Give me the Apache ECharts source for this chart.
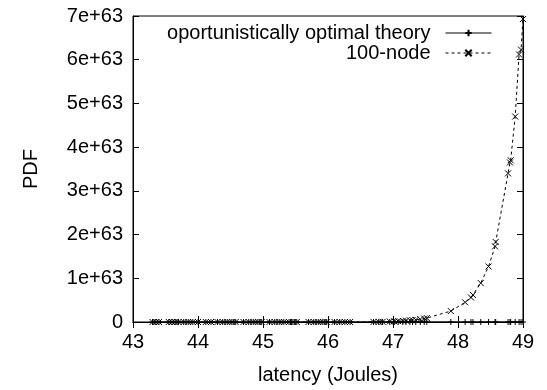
<!DOCTYPE html>
<html>
<head>
<meta charset="utf-8">
<script src="https://cdn.jsdelivr.net/npm/echarts@6/dist/echarts.min.js"></script>
<style>
  html, body { margin: 0; padding: 0; background: #fff; }
  #chart { width: 547px; height: 390px; }
</style>
</head>
<body>
<div id="chart"></div>
<script>
// latency (Joules) sample points
const latency = [
  43.3, 43.35, 43.4,
  43.55, 43.6, 43.65, 43.7, 43.78, 43.85, 43.92, 44.0,
  44.12, 44.2, 44.3, 44.38, 44.45, 44.52, 44.58,
  44.7, 44.78, 44.85, 44.92, 44.98,
  45.1, 45.18, 45.25, 45.32, 45.4, 45.46, 45.52,
  45.7, 45.78, 45.85, 45.92, 45.98,
  46.1, 46.18, 46.26, 46.34,
  46.7, 46.78, 46.84,
  46.95, 47.02, 47.08, 47.15, 47.2, 47.26, 47.3, 47.35, 47.42, 47.48, 47.52,
  47.89, 48.11, 48.2, 48.23, 48.35, 48.47, 48.57, 48.58,
  48.77, 48.8, 48.81, 48.88, 48.94, 48.97, 49.0
];

// PDF of the 100-node run, in units of 1e63
const node100 = [
  0, 0, 0,
  0, 0, 0, 0, 0, 0, 0, 0,
  0, 0, 0, 0, 0, 0, 0,
  0, 0, 0, 0, 0,
  0, 0, 0, 0, 0, 0, 0,
  0, 0, 0, 0, 0,
  0, 0, 0, 0,
  0.002, 0.003, 0.004,
  0.01, 0.015, 0.02, 0.025, 0.03, 0.04, 0.045, 0.05, 0.065, 0.08, 0.09,
  0.25, 0.45, 0.56, 0.62, 0.89, 1.27, 1.73, 1.83,
  3.40, 3.65, 3.70, 4.70, 6.12, 6.23, 6.93
];

// theory curve sits on the baseline at this scale
const theory = latency.map(() => 0);

const scale = 1e63;
const xTicks = { min: 43, max: 49, interval: 1 };
const yTicks = { min: 0, max: 7, interval: 1 };

const plusPath = 'path://M0,5L10,5M5,0L5,10';
const crossPath = 'path://M0,0L10,10M10,0L0,10';

const chart = echarts.init(document.getElementById('chart'), null, { renderer: 'canvas' });

const font = 'Liberation Sans, Arial, sans-serif';
const fs = 20;
const tickStyle = { show: true, inside: true, length: 6, lineStyle: { color: '#000', width: 1 } };

chart.setOption({
  animation: false,
  backgroundColor: '#fff',
  textStyle: { fontFamily: font },
  grid: {
    left: 133, right: 24, top: 16, bottom: 63,
    show: true, borderColor: '#000', borderWidth: 1, backgroundColor: 'transparent'
  },
  legend: {
    orient: 'vertical',
    right: 50,
    top: 18,
    align: 'right',
    itemWidth: 46,
    itemHeight: 8,
    itemGap: 0,
    lineStyle: { width: 1 },
    // gnuplot key leaves a wider gap between text and sample
    formatter: name => '{t|' + name + '}',
    textStyle: {
      fontFamily: font, fontSize: fs, color: '#000',
      rich: { t: { fontFamily: font, fontSize: fs, color: '#000', padding: [0, 10, 0, 0] } }
    },
    data: ['oportunistically optimal theory', '100-node']
  },
  xAxis: [
    {
      type: 'value', min: xTicks.min, max: xTicks.max, interval: xTicks.interval,
      name: 'latency (Joules)', nameLocation: 'middle', nameGap: 43,
      nameTextStyle: { fontFamily: font, fontSize: fs, color: '#000' },
      axisLine: { show: true, lineStyle: { color: '#000', width: 1 } },
      axisTick: tickStyle,
      axisLabel: { fontFamily: font, fontSize: fs, color: '#000', margin: 10 },
      splitLine: { show: false }
    },
    {
      type: 'value', position: 'top', min: xTicks.min, max: xTicks.max, interval: xTicks.interval,
      axisLine: { show: true, lineStyle: { color: '#000', width: 1 } },
      axisTick: tickStyle,
      axisLabel: { show: false },
      splitLine: { show: false }
    }
  ],
  yAxis: [
    {
      type: 'value', min: yTicks.min * scale, max: yTicks.max * scale, interval: yTicks.interval * scale,
      name: 'PDF', nameLocation: 'middle', nameGap: 92,
      nameTextStyle: { fontFamily: font, fontSize: fs, color: '#000' },
      axisLine: { show: true, lineStyle: { color: '#000', width: 1 } },
      axisTick: tickStyle,
      axisLabel: {
        fontFamily: font, fontSize: fs, color: '#000', margin: 10,
        formatter: v => v === 0 ? '0' : Math.round(v / scale) + 'e+63'
      },
      splitLine: { show: false }
    },
    {
      type: 'value', position: 'right', min: yTicks.min * scale, max: yTicks.max * scale, interval: yTicks.interval * scale,
      axisLine: { show: true, lineStyle: { color: '#000', width: 1 } },
      axisTick: tickStyle,
      axisLabel: { show: false },
      splitLine: { show: false }
    }
  ],
  series: [
    {
      name: 'oportunistically optimal theory',
      type: 'line',
      data: latency.map((x, i) => [x, theory[i] * scale]),
      symbol: plusPath,
      symbolSize: 6,
      showAllSymbol: true,
      itemStyle: { color: 'transparent', borderColor: '#000', borderWidth: 1 },
      lineStyle: { color: '#000', width: 1, type: 'solid' },
      emphasis: { disabled: true }
    },
    {
      name: '100-node',
      type: 'line',
      data: latency.map((x, i) => [x, node100[i] * scale]),
      symbol: crossPath,
      symbolSize: 6,
      showAllSymbol: true,
      itemStyle: { color: 'transparent', borderColor: '#000', borderWidth: 1 },
      lineStyle: { color: '#000', width: 1, type: [3, 3] },
      emphasis: { disabled: true }
    }
  ]
});
</script>
</body>
</html>
